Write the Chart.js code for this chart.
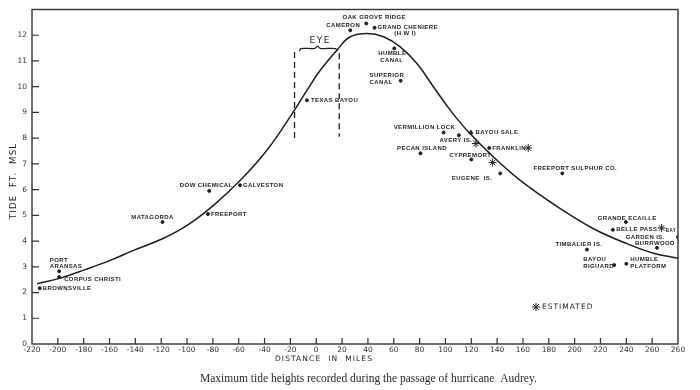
<!DOCTYPE html>
<html>
<head>
<meta charset="utf-8">
<script src="https://cdn.jsdelivr.net/npm/chart.js@4.4.1/dist/chart.umd.min.js"></script>
<style>
  body { margin: 0; background: #fff; }
  canvas { display: block; }
</style>
</head>
<body>
<canvas id="tideChart" width="700" height="390"></canvas>
<script>
// smooth curve of max tide vs distance
const curveX = [-216, -198, -178.8, -159.4, -141.4, -119, -100, -79.5, -58.8, -38.2, -16.8, -7.2, 3.1, 16, 26.3, 39.7, 52.1, 65, 77.9, 90.8, 103.7, 116.6, 137.2, 157.9, 188.9, 214.6, 240.5, 261, 280];
const curveY = [2.34, 2.56, 2.89, 3.25, 3.64, 4.09, 4.61, 5.39, 6.36, 7.53, 9.09, 9.86, 10.64, 11.42, 11.94, 12.07, 11.94, 11.55, 10.9, 9.99, 9.09, 8.31, 7.27, 6.36, 5.26, 4.48, 3.9, 3.53, 3.33];

// recorded stations
const stationNames = ['BROWNSVILLE', 'CORPUS CHRISTI', 'PORT\nARANSAS', 'MATAGORDA', 'DOW CHEMICAL', 'FREEPORT', 'GALVESTON',
  'TEXAS BAYOU', 'CAMERON', 'OAK GROVE RIDGE', 'GRAND CHENIERE\n(H W I)', 'HUMBLE\nCANAL', 'SUPERIOR\nCANAL',
  'VERMILLION LOCK', 'AVERY IS.', 'PECAN ISLAND', 'BAYOU SALE', 'FRANKLIN', 'CYPREMORT', 'EUGENE  IS.',
  'FREEPORT SULPHUR CO.', 'GRANDE ECAILLE', 'BELLE PASS', 'GARDEN IS.\nBURRWOOD', 'TIMBALIER IS.',
  'BAYOU\nRIGUARD', 'HUMBLE\nPLATFORM', 'BAY'];
const stationX = [-214, -199, -199, -119, -82.8, -83.8, -59, -7.2, 26.3, 38.7, 45.1, 60.4, 65.3, 98.6, 110.4, 80.7, 119.7, 133.9, 120, 142.4, 190.4, 239.7, 229.6, 263.7, 209.5, 230.6, 240, 280];
const stationY = [2.17, 2.6, 2.83, 4.74, 5.95, 5.05, 6.17, 9.47, 12.19, 12.46, 12.29, 11.49, 10.23, 8.22, 8.11, 7.41, 8.22, 7.62, 7.17, 6.63, 6.63, 4.74, 4.44, 3.74, 3.67, 3.07, 3.12, 4.16];

// estimated values (asterisks)
const estX = [123.6, 164.1, 136.5, 267.3];
const estY = [7.79, 7.62, 7.05, 4.51];

// eye of the storm: dashed walls and brace
const eyeLeftX = [-16.8, -16.8], eyeLeftY = [11.35, 7.92];
const eyeRightX = [17.8, 17.8], eyeRightY = [11.3, 8.05];
const braceX = [-13, -12, -1, 1, 3, 15, 16];
const braceY = [11.38, 11.48, 11.49, 11.58, 11.49, 11.48, 11.38];

const xTickLabels = {280: '260'};

// label offsets in px from the dot, one [dx, dy, align] per text line
const labelPlace = [
  [[3, 0, 'left']], [[5, 2.5, 'left']], [[-9.4, -10.7, 'left'], [-9.4, -4.4, 'left']], [[-10, -4.5, 'center']],
  [[-3, -5.5, 'center']], [[3, 0, 'left']], [[3, 0, 'left']],
  [[4, 0, 'left']], [[-7, -4.5, 'center']], [[8, -6, 'center']], [[3, 0, 'left'], [30.7, 6, 'center']],
  [[-2, 5, 'center'], [-2.5, 11.7, 'center']], [[-31, -5, 'left'], [-31, 1.3, 'left']],
  [[11.7, -5, 'right']], [[-3, 5, 'center']], [[1.5, -4.7, 'center']], [[4.6, 0, 'left']], [[3, 0, 'left']],
  [[-1, -4, 'center']], [[-8, 5.3, 'right']],
  [[13, -4.7, 'center']], [[1.3, -4, 'center']], [[3.3, 0, 'left']], [[-11.7, -10, 'center'], [-2, -4, 'center']],
  [[-8, -5.3, 'center']], [[-31, -5.4, 'left'], [-31, 1.3, 'left']], [[4, -4, 'left'], [4, 2.7, 'left']], [[-7, -6, 'center']]
];

const ink = '#1e1e1e';
const pts = (xs, ys) => xs.map((x, i) => ({x: x, y: ys[i]}));

const decorations = {
  id: 'decorations',
  afterDatasetsDraw(chart) {
    const ctx = chart.ctx;
    const a = chart.chartArea;
    const sx = chart.scales.x, sy = chart.scales.y;
    ctx.save();
    // frame
    ctx.strokeStyle = '#333';
    ctx.lineWidth = 1.4;
    ctx.strokeRect(a.left, a.top, a.right - a.left, a.bottom - a.top);
    // inside ticks
    ctx.lineWidth = 1.2;
    ctx.beginPath();
    sy.ticks.forEach(t => {
      if (t.value < 1 || t.value > 12) return;
      const py = sy.getPixelForValue(t.value);
      ctx.moveTo(a.left, py); ctx.lineTo(a.left + 7, py);
    });
    sx.ticks.forEach(t => {
      if (t.value <= -220 || t.value >= 280) return;
      const px = sx.getPixelForValue(t.value);
      ctx.moveTo(px, a.bottom); ctx.lineTo(px, a.bottom - 6);
    });
    ctx.stroke();

    // station labels
    ctx.fillStyle = ink;
    ctx.letterSpacing = '0.4px';
    ctx.textBaseline = 'middle';
    stationNames.forEach((name, i) => {
      const px = sx.getPixelForValue(stationX[i]);
      const py = sy.getPixelForValue(stationY[i]);
      ctx.font = name === 'BAY' ? 'bold 4.5px "Liberation Sans"' : 'bold 6px "Liberation Sans"';
      name.split('\n').forEach((line, j) => {
        const off = labelPlace[i][j];
        ctx.textAlign = off[2];
        ctx.fillText(line, px + off[0], py + off[1]);
      });
    });

    // EYE
    ctx.font = '9px "DejaVu Sans"';
    ctx.letterSpacing = '1.5px';
    ctx.textAlign = 'center';
    ctx.fillText('EYE', sx.getPixelForValue(2.3) + 1, sy.getPixelForValue(11.8));

    // estimated legend
    ctx.strokeStyle = ink;
    ctx.lineWidth = 1;
    Chart.helpers.drawPoint(ctx, {pointStyle: 'star', radius: 4, borderWidth: 1}, 536, 307);
    ctx.font = '7.5px "DejaVu Sans"';
    ctx.letterSpacing = '1px';
    ctx.textAlign = 'left';
    ctx.fillText('ESTIMATED', 542, 307);

    // axis titles
    ctx.font = '7.5px "DejaVu Sans"';
    ctx.letterSpacing = '1.1px';
    ctx.textAlign = 'center';
    ctx.fillText('DISTANCE  IN  MILES', 324, 359);
    ctx.save();
    ctx.translate(14, 181);
    ctx.rotate(-Math.PI / 2);
    ctx.font = '8.5px "DejaVu Sans"';
    ctx.letterSpacing = '1.2px';
    ctx.fillText('TIDE  FT.  MSL', 0, 0);
    ctx.restore();

    // caption
    ctx.letterSpacing = '0px';
    ctx.font = '11.5px "Liberation Serif"';
    ctx.fillStyle = '#2a2a2a';
    ctx.textAlign = 'left';
    ctx.fillText('Maximum tide heights recorded during the passage of hurricane  Audrey.', 200, 379);
    ctx.restore();
  }
};

new Chart('tideChart', {
  type: 'scatter',
  data: {
    datasets: [{
      data: pts(curveX, curveY),
      showLine: true,
      borderColor: ink,
      borderWidth: 1.5,
      pointRadius: 0,
      tension: 0.4
    }, {
      data: pts(stationX, stationY),
      backgroundColor: ink,
      borderColor: ink,
      pointRadius: stationNames.map(n => n === 'BAYOU SALE' ? 2.3 : 1.5),
      pointStyle: stationNames.map(n => n === 'BAYOU SALE' ? 'triangle' : 'circle')
    }, {
      data: pts(estX, estY),
      pointStyle: 'star',
      pointRadius: 4,
      borderColor: ink,
      borderWidth: 1
    }, {
      data: pts(eyeLeftX, eyeLeftY),
      showLine: true, borderColor: ink, borderWidth: 1.3, borderDash: [6, 4], pointRadius: 0
    }, {
      data: pts(eyeRightX, eyeRightY),
      showLine: true, borderColor: ink, borderWidth: 1.3, borderDash: [6, 4], pointRadius: 0
    }, {
      data: pts(braceX, braceY),
      showLine: true, borderColor: ink, borderWidth: 1.2, pointRadius: 0, tension: 0.3
    }]
  },
  options: {
    responsive: false,
    animation: false,
    devicePixelRatio: 1,
    layout: { padding: { top: 9, right: 22, left: 0, bottom: 0 } },
    plugins: { legend: { display: false }, tooltip: { enabled: false } },
    scales: {
      x: {
        min: -220, max: 280,
        grid: { display: false, drawTicks: false },
        border: { display: false },
        afterFit: s => { s.height = 46; },
        ticks: {
          stepSize: 20, autoSkip: false, maxRotation: 0, padding: 2,
          color: '#333', font: { family: 'DejaVu Sans', size: 7.5 },
          callback: v => xTickLabels[v] || String(v)
        }
      },
      y: {
        min: 0, max: 13,
        grid: { display: false, drawTicks: false },
        border: { display: false },
        afterFit: s => { s.width = 32; },
        ticks: {
          stepSize: 1, padding: 5,
          color: '#333', font: { family: 'DejaVu Sans', size: 7.5 },
          callback: v => v > 12 ? '' : String(v)
        }
      }
    }
  },
  plugins: [decorations]
});
</script>
</body>
</html>
